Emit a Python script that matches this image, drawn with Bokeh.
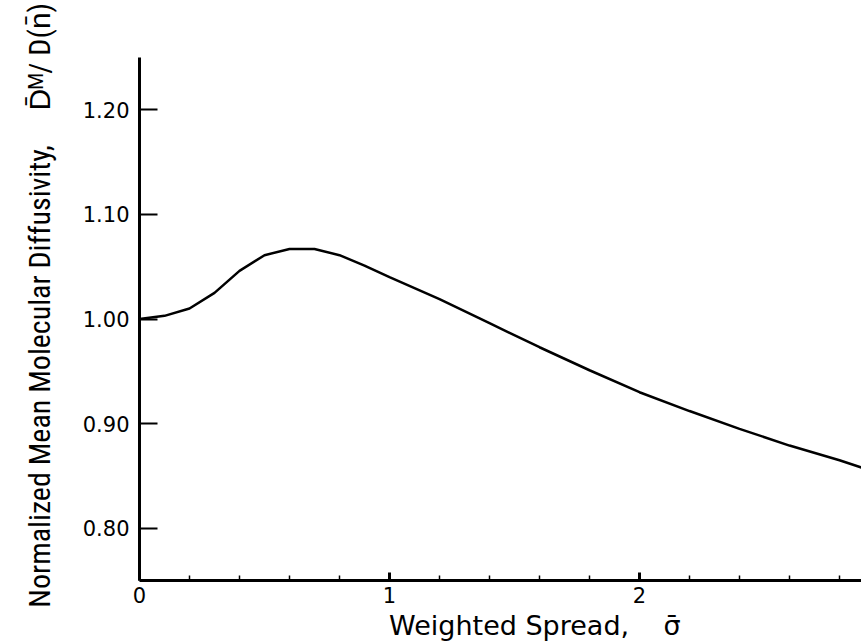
from bokeh.plotting import figure
from bokeh.models import FixedTicker, NumeralTickFormatter, Range1d
from bokeh.embed import file_html
from bokeh.resources import INLINE

# Data
sigma_bar = [0.0, 0.1, 0.2, 0.3, 0.4, 0.5, 0.6, 0.7, 0.8, 0.9, 1.0,
             1.2, 1.4, 1.6, 1.8, 2.0, 2.2, 2.4, 2.6, 2.8, 2.9]
diffusivity = [1.000, 1.003, 1.010, 1.025, 1.046, 1.061, 1.067, 1.067, 1.061, 1.051, 1.040,
               1.019, 0.996, 0.973, 0.951, 0.930, 0.912, 0.895, 0.879, 0.865, 0.857]

x_major_ticks = [0, 1, 2]
x_minor_ticks = [0.2, 0.4, 0.6, 0.8, 1.2, 1.4, 1.6, 1.8, 2.2, 2.4, 2.6, 2.8]
y_major_ticks = [0.80, 0.90, 1.00, 1.10, 1.20]

NB = "\u00a0"
x_title = NB * 8 + "Weighted Spread," + NB * 4 + "σ̄"
y_title = NB * 4 + "Normalized Mean Molecular Diffusivity," + NB * 5 + "D̄ᴹ/" + NB + "D(n̄)"

TICK_FONT = "DejaVu Sans"
NARROW_FONT = "'Liberation Sans Narrow', 'Roboto Condensed', 'Arial Narrow', 'Liberation Sans', sans-serif"

p = figure(width=861, height=643, output_backend="svg", toolbar_location=None,
           x_range=Range1d(0, 2.888), y_range=Range1d(0.75, 1.25),
           min_border_left=139, min_border_right=0, min_border_top=57, min_border_bottom=61)
p.outline_line_color = None
p.grid.visible = False
p.background_fill_color = "white"
p.border_fill_color = "white"

p.line(sigma_bar, diffusivity, line_color="black", line_width=2.5)

# X axis
xa = p.xaxis[0]
xa.ticker = FixedTicker(ticks=x_major_ticks, minor_ticks=x_minor_ticks)
xa.axis_line_width = 3
xa.axis_line_color = "black"
xa.major_tick_in = 8
xa.major_tick_out = 0
xa.major_tick_line_width = 3
xa.minor_tick_in = 5
xa.minor_tick_out = 0
xa.minor_tick_line_width = 1.5
xa.major_label_standoff = 6
xa.major_label_text_font = TICK_FONT
xa.major_label_text_font_size = "21px"
xa.major_label_text_color = "black"
xa.axis_label = x_title
xa.axis_label_standoff = 4
xa.axis_label_text_font = TICK_FONT
xa.axis_label_text_font_size = "27px"
xa.axis_label_text_font_style = "normal"
xa.axis_label_text_color = "black"

# Y axis
ya = p.yaxis[0]
ya.ticker = FixedTicker(ticks=y_major_ticks, minor_ticks=[])
ya.formatter = NumeralTickFormatter(format="0.00")
ya.axis_line_width = 3
ya.axis_line_color = "black"
ya.major_tick_in = 18
ya.major_tick_out = 0
ya.major_tick_line_width = 2
ya.minor_tick_in = 0
ya.minor_tick_out = 0
ya.major_label_standoff = 10
ya.major_label_text_font = TICK_FONT
ya.major_label_text_font_size = "21px"
ya.major_label_text_color = "black"
ya.axis_label = y_title
ya.axis_label_standoff = 23
ya.axis_label_text_font = NARROW_FONT
ya.axis_label_text_font_size = "30px"
ya.axis_label_text_font_style = "normal"
ya.axis_label_text_color = "black"

open("out.html", "w").write(file_html(p, INLINE))
